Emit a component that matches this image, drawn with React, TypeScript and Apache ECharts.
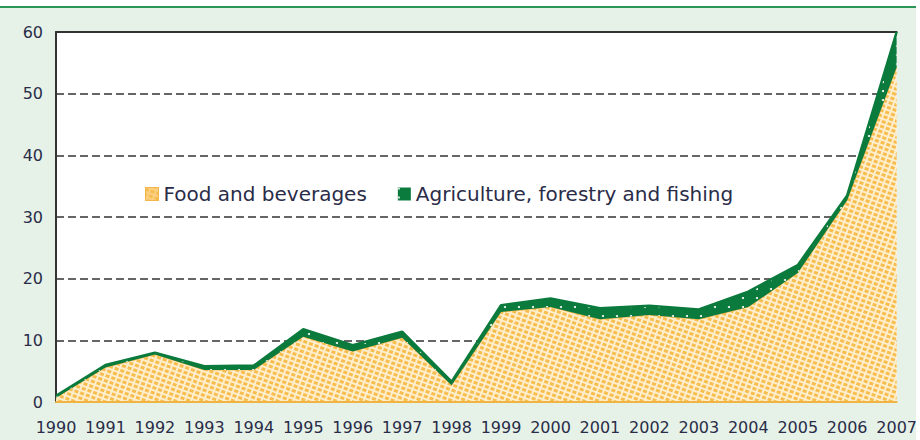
import React, { useEffect, useRef } from "react";
import * as echarts from "echarts";

const years = ["1990","1991","1992","1993","1994","1995","1996","1997","1998","1999","2000","2001","2002","2003","2004","2005","2006","2007"];
const foodBeverages = [0.7, 5.6, 7.7, 5.2, 5.2, 10.6, 8.2, 10.4, 2.7, 14.6, 15.4, 13.4, 14.1, 13.4, 15.4, 20.9, 32.7, 54.3];
const agriculture = [0.3, 0.4, 0.3, 0.6, 0.7, 1.2, 1.0, 1.0, 0.6, 1.1, 1.4, 1.8, 1.5, 1.6, 2.5, 1.3, 0.8, 5.7];
const yTicks = { min: 0, max: 60, interval: 10 };
const seriesNames = ["Food and beverages", "Agriculture, forestry and fishing"];

const TEXT = "#2a2c48";
const FONT = "'DejaVu Sans', sans-serif";

export default function App() {
  const ref = useRef<HTMLDivElement>(null);
  useEffect(() => {
    if (!ref.current) return;
    const chart = echarts.init(ref.current, undefined, { renderer: "svg" });
    chart.setOption({
      animation: false,
      backgroundColor: "#e6f2e8",
      textStyle: { fontFamily: FONT },
      graphic: [
        { type: "rect", shape: { x: 0, y: 0, width: 920, height: 7 }, style: { fill: "#ffffff" }, z: 100 },
        { type: "rect", shape: { x: 916, y: 0, width: 4, height: 440 }, style: { fill: "#ffffff" }, z: 100 },
        { type: "line", shape: { x1: 0, y1: 7, x2: 916, y2: 7 }, style: { stroke: "#2a9658", lineWidth: 2 }, z: 100 },
      ],
      grid: { left: 56, right: 20, top: 32, bottom: 38, show: true, backgroundColor: "#ffffff", borderWidth: 0 },
      legend: {
        left: 140,
        top: 179,
        itemWidth: 13,
        itemHeight: 13,
        itemGap: 31,
        icon: "rect",
        textStyle: { color: TEXT, fontSize: 20, fontFamily: FONT },
        data: [
          { name: seriesNames[0], itemStyle: { color: "#fbd084", borderColor: "#f3b64a", borderWidth: 1 } },
          { name: seriesNames[1], itemStyle: { color: "#0b7a3d" } },
        ],
      },
      xAxis: [
        {
          type: "category",
          data: years,
          boundaryGap: false,
          axisTick: { show: false },
          axisLine: { show: true, lineStyle: { color: "#f0b445", width: 2 } },
          axisLabel: { color: TEXT, fontSize: 16, margin: 17, interval: 0, fontFamily: FONT },
          splitLine: { show: false },
          z: 10,
        },
        {
          type: "category",
          data: years,
          position: "top",
          boundaryGap: false,
          axisTick: { show: false },
          axisLabel: { show: false },
          axisLine: { show: true, lineStyle: { color: "#333333", width: 2 } },
        },
      ],
      yAxis: {
        type: "value",
        min: yTicks.min,
        max: yTicks.max,
        interval: yTicks.interval,
        axisLine: { show: true, lineStyle: { color: "#333333", width: 2 } },
        axisTick: { show: false },
        axisLabel: { color: TEXT, fontSize: 16, margin: 13, fontFamily: FONT },
        splitLine: { show: true, lineStyle: { color: "#333333", width: 1.5, type: [8, 4] } },
      },
      series: [
        {
          name: seriesNames[0],
          type: "line",
          stack: "total",
          data: foodBeverages,
          symbol: "none",
          lineStyle: { color: "#f3b64a", width: 1 },
          itemStyle: {
            color: "#ffeecb",
            decal: {
              symbol: "rect",
              symbolSize: 1,
              color: "#f7bd4e",
              dashArrayX: [4, 2],
              dashArrayY: [3, 2],
              rotation: 0.35,
            },
          },
          areaStyle: { color: "#ffeecb", opacity: 1 },
          z: 2,
        },
        {
          name: seriesNames[1],
          type: "line",
          stack: "total",
          data: agriculture,
          symbol: "none",
          lineStyle: { color: "#0b7a3d", width: 2.5 },
          itemStyle: {
            color: "#0b7a3d",
            decal: {
              symbol: "circle",
              symbolSize: 1,
              color: "#ffffff",
              dashArrayX: [2, 12],
              dashArrayY: [2, 7],
            },
          },
          areaStyle: { color: "#0b7a3d", opacity: 1 },
          z: 3,
        },
      ],
    });
    return () => chart.dispose();
  }, []);
  return <div ref={ref} style={{ width: 920, height: 440, position: "absolute", left: 0, top: 0 }} />;
}
